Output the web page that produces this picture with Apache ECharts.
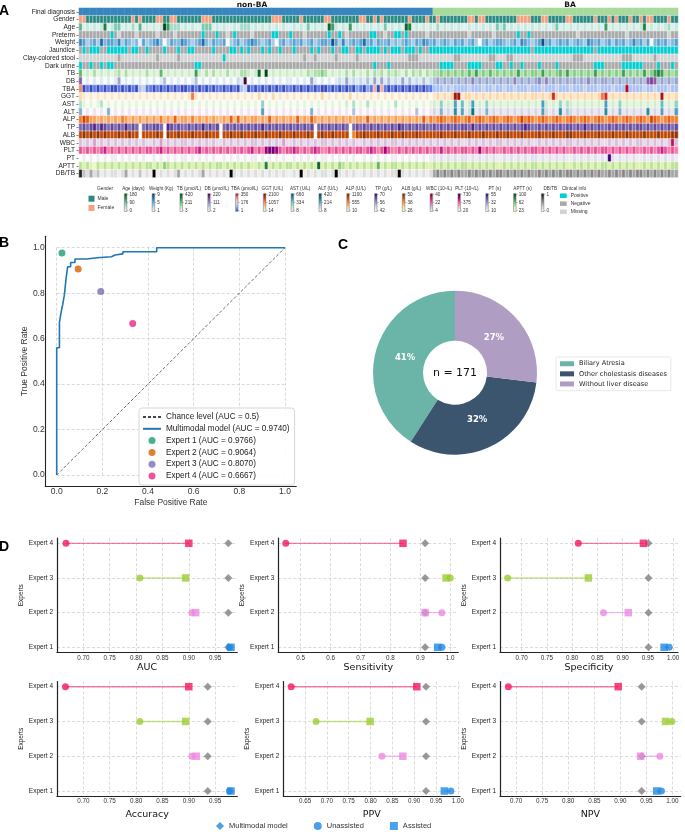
<!DOCTYPE html>
<html><head><meta charset="utf-8">
<script src="https://cdn.jsdelivr.net/npm/echarts@6/dist/echarts.min.js"></script>
<style>html,body{margin:0;padding:0;background:#fff}#c{width:685px;height:832px}</style>
</head><body><div id="c"></div>
<script>
// ---------------- Panel A data ----------------
const heatRows = ['Final diagnosis','Gender','Age','Preterm','Weight','Jaundice','Clay-colored stool','Dark urine','TB','DB','TBA','GGT','AST','ALT','ALP','TP','ALB','WBC','PLT','PT','APTT','DB/TB'];
const nNonBA = 101, nBA = 70;
const groupLabels = ['non-BA', 'BA'];
// Codes read per column (0-9 = colour level, '-' = empty); Gender 0=Male 1=Female; clinical 2=Positive 1=Negative 0=Missing
const codeGender   = "1100000000 0000010100 0011001100 0000011100 0000000000 0000011100 0001000000 1100000000 1100101000 0000100001 0010000000 0110110000 0000011110 0011000001 1000000100 0101000100 1011000010 0";
const codeAge      = "5121212712 4412131512 1212963331 2121144412 1211213331 2121212121 1212141212 1862121612 1212121412 1218712121 2131212121 1212121214 2412121212 1212124121 2121212121 6121212121 2712121231 2";
const codePreterm  = "1111111112 1011110111 1101111011 1111121112 1101211110 1111122111 2111011111 1211210111 1112211011 2212111110 1111111111 1011111101 1111121121 1111111111 1101111111 1111110111 1111111101 1";
const codeWeight   = "6534537455 4635434153 4564035446 5434574354 4503453456 5434530453 4545345345 5485363454 5745354453 4345435465 4534543545 3453045345 5434536543 4584534545 3454365453 4535453464 5350454534 5";
const codeJaundice = "1212221122 2222122112 1111211121 1221111121 1112212121 1121211211 1211112121 1121122112 2122221212 2212221211 2222222222 2222222222 2222222221 2222222222 2222222122 2222222222 2222222222 2";
const codeClay     = "0000000000 0100000000 0010000010 0000000000 0200000000 0000000000 0000100100 0001000001 0000000000 0000111000 0000000110 0000000110 0011000000 0000000000 0111000000 0000011100 0000100000 0";
const codeUrine    = "2112112122 1111111111 1111111111 1112211111 1111111111 1111111111 1111111111 1111111111 1111211121 1111111111 1112222111 1222211112 2112112111 1211112111 1111111222 1111122222 2111121112 1";
const codeTB       = "5121312121 2313121213 1215121212 1216213131 2131213321 2819121212 1212132334 3121213131 2131323132 3213132313 2334343434 3536343534 3434363434 4363434536 3434343634 3434363434 3634676343 4";
const codeDB       = "6010101010 1401010101 0101301010 1013010101 0101021901 0101010101 1010104101 0101214121 2131414131 2141312131 2343434343 4353434343 4343534343 4535343434 3434353434 4343434343 4367634343 4";
const codeTBA      = "7010101010 0101010341 1010101010 0101010101 1010103401 0101010101 1010101010 0101010102 1021606101 0101010101 1333434333 3433343343 3433433343 3343334333 4333433343 3343339333 3433433343 3";
const codeGGT      = "2101010101 0101010101 0101010101 0151010101 0101010101 0201020101 0101010102 0101010201 0101010101 0101010101 0121212881 2212121212 1212121212 2121272121 2121212125 7121212121 2121218121 2";
const codeAST      = "3101013010 1010101010 1010101010 1010101010 1010101010 1040101010 1010101010 1010102030 1030101010 3010101010 1214121615 1261214121 2121212121 2162121413 2121212121 6121412121 2121215121 4";
const codeALT      = "4010101040 1010101010 1010101010 1010101010 1010101010 1050101010 1010104010 1010101030 1010101010 1010103010 1214121615 1271214121 2121212121 2152121613 2121212121 6121412121 2161215121 5";
const codeALP      = "5764434343 4354343434 3435343634 4353434343 3436363434 4343634343 4363436434 3434343434 4363434343 4343434363 5456545654 5645654565 4565457565 4565456545 6545654565 4565456545 6547654565 5";
const codeTP       = "6767868767 6768676-67 6776-87676 6767686767 -676767676 7686767676 7676767-67 6767676-67 6767676767 6876767676 6767676767 7686767676 7676767876 6767676767 7676867676 6767676767 7676767676 7";
const codeALB      = "7878787877 7877877-77 7787-87787 7787778777 -778778777 8778777877 7877787-78 7787777-57 7877787778 7787778777 7778777877 7877787778 7787778777 7877787778 8777877787 7787778777 7877787778 8";
const codeWBC      = "2121312121 2121212121 1213121212 2121212121 1212121212 2121212131 1212121212 2121212121 1212121212 2121212121 2121212121 1212121212 2121212121 1212121212 2121212121 1212121212 2121212127 2";
const codePLT      = "5454545645 4545454545 5456454545 4545645454 5454545456 4547887545 5654545654 4545454545 5456545754 4545454545 4546454545 5454745454 4545454545 5454545454 4545454545 5454545454 4545456545 4";
const codePT       = "0101010101 1010101010 0101010101 1010101010 0101010101 1010101010 0101010101 1010101010 0101010101 1010101010 1212121212 2121212121 1212121212 2121212121 1212121212 1921212121 1212121212 1";
const codeAPTT     = "3232132323 2323232323 3232432323 2323232323 3232323232 2327232323 3232323282 3232432323 2323252323 3232323232 2323232323 3232323232 2323232323 3232323232 2323232323 3232323232 2323232323 3";
const codeDBTB     = "8324231212 2124121312 1912121241 2121241212 1219212121 2121212121 1219121212 2129212121 1212121212 2921212121 2454545454 4545454545 5454545454 4545454545 5454545454 4545454545 5454545454 4";

const cbTitles = ['Age (days)','Weight (Kg)','TB (μmol/L)','DB (μmol/L)','TBA (μmol/L)','GGT (U/L)','AST (U/L)','ALT (U/L)','ALP (U/L)','TP (g/L)','ALB (g/L)','WBC (10⁹/L)','PLT (10⁹/L)','PT (s)','APTT (s)','DB/TB'];
const cbTicks = [['180','90','0'],['9','5','1'],['420','211','3'],['220','111','2'],['350','176','1'],['2100','1057','14'],['660','334','8'],['420','214','8'],['1100','555','10'],['70','56','42'],['50','38','26'],['40','22','4'],['730','375','20'],['55','32','10'],['100','62','23'],['1','','0']];

// ---------------- Panel B data ----------------
const rocFPR = [0,0,0.012,0.012,0.019,0.019,0.026,0.026,0.034,0.034,0.041,0.041,0.048,0.048,0.061,0.061,0.08,0.08,0.13,0.13,0.19,0.19,0.24,0.24,0.255,0.255,0.29,0.29,0.438,0.438,1];
const rocTPR = [0,0.56,0.56,0.67,0.67,0.714,0.714,0.748,0.748,0.795,0.795,0.865,0.865,0.916,0.916,0.935,0.935,0.95,0.95,0.957,0.957,0.96,0.96,0.968,0.968,0.973,0.973,0.982,0.982,1,1];
const expertFPR = [0.023, 0.094, 0.193, 0.333];
const expertTPR = [0.977, 0.906, 0.807, 0.667];
const expertAUCText = ['0.9766','0.9064','0.8070','0.6667'];
const modelAUCText = '0.9740';

// ---------------- Panel C data ----------------
const pieNames = ['Biliary Atresia','Other cholestasis diseases','Without liver disease'];
const pieCounts = [70, 55, 46];
const pieTotal = 171;

// ---------------- Panel D data ----------------
const expertNames = ['Expert 1','Expert 2','Expert 3','Expert 4'];
const unassistedAUC  = [0.977, 0.906, 0.807, 0.667];
const assistedAUC    = [0.980, 0.913, 0.894, 0.900];
const modelAUC = 0.975;
const unassistedSens = [0.972, 0.972, 1.000, 0.450];
const assistedSens   = [0.958, 0.916, 0.986, 0.842];
const modelSens = 0.916;
const unassistedSpec = [0.992, 0.862, 0.672, 0.812];
const assistedSpec   = [0.982, 0.911, 0.832, 0.941];
const modelSpec = 0.951;
const unassistedAcc  = [0.977, 0.906, 0.807, 0.666];
const assistedAcc    = [0.980, 0.914, 0.894, 0.900];
const modelAcc = 0.936;
const unassistedPPV  = [0.984, 0.826, 0.675, 0.618];
const assistedPPV    = [0.969, 0.874, 0.799, 0.906];
const modelPPV = 0.927;
const unassistedNPV  = [0.979, 0.976, 0.999, 0.685];
const assistedNPV    = [0.970, 0.939, 0.987, 0.896];
const modelNPV = 0.941;

// ---------------- styles ----------------
const FONT = 'DejaVu Sans', AFONT = 'Liberation Sans';
const diagColors = ['#3786bf', '#a7db9c'];
const genderColors = ['#2b8a82', '#f5a07e'];
const clinColors = ['#d3d3d3', '#a9a9a9', '#00ced1'];
const cmaps = [
  ['#f2faf7','#c1e6db','#66c2a4','#238b45','#00441b'],
  ['#f7fbff','#c6dbef','#6baed6','#2171b5','#08306b'],
  ['#f7fcf5','#c7e9c0','#74c476','#238b45','#00441b'],
  ['#f7fcfd','#bfd3e6','#8c96c6','#88419d','#4d004b'],
  ['#3b4cc0','#7b9ff9','#c0d4f5','#f2cbb7','#ee8468','#b40426'],
  ['#fff7ec','#fdd49e','#fc8d59','#d7301f','#7f0000'],
  ['#f7fcf0','#ccebc5','#7bccc4','#2b8cbe','#084081'],
  ['#fff7fb','#d0d1e6','#67a9cf','#02818a','#014636'],
  ['#fff5eb','#fdd0a2','#fd8d3c','#d94801','#7f2704'],
  ['#fcfbfd','#dadaeb','#9e9ac8','#6a51a3','#3f007d'],
  ['#ffffe5','#fee391','#fe9929','#cc4c02','#662506'],
  ['#f7f4f9','#d4b9da','#df65b0','#ce1256','#67001f'],
  ['#fff7f3','#fcc5c0','#f768a1','#ae017e','#49006a'],
  ['#fcfbfd','#dadaeb','#9e9ac8','#6a51a3','#3f007d'],
  ['#ffffe5','#d9f0a3','#78c679','#238443','#004529'],
  ['#ffffff','#d9d9d9','#969696','#525252','#000000']
];
const expertColors = ['#1e88e5', '#ee88e0', '#9acd32', '#f5175b'];
const rocExpertColors = ['#1b9e77', '#d95f02', '#7570b3', '#e7298a'];
const pieColors = ['#6bb5a8', '#3b556e', '#b09dc4'];

const chart = echarts.init(document.getElementById('c'));
const grid = [], xAxis = [], yAxis = [], series = [], visualMap = [], graphic = [], legend = [];
const addGrid = g => (grid.push(g), grid.length - 1);
const addX = a => (xAxis.push(a), xAxis.length - 1);
const addY = a => (yAxis.push(a), yAxis.length - 1);
const txt = (x, y, text, o) => graphic.push({type:'text', silent:true, x, y, style:Object.assign({text, fill:'#222', fontFamily:FONT, fontSize:7, align:'left', verticalAlign:'middle'}, o || {})});

// ================= Panel A =================
const nCols = nNonBA + nBA;
let codeFinal = '';
for (let i = 0; i < nCols; i++) codeFinal += i < nNonBA ? '0' : '1';
const rowCodes = [codeFinal, codeGender, codeAge, codePreterm, codeWeight, codeJaundice, codeClay, codeUrine, codeTB, codeDB, codeTBA, codeGGT, codeAST, codeALT, codeALP, codeTP, codeALB, codeWBC, codePLT, codePT, codeAPTT, codeDBTB];
const hL = 79, hT = 8, hW = 599, hRow = 7.7;
const gH = addGrid({left:hL, top:hT, width:hW, height:hRow * heatRows.length});
const cols = []; for (let i = 0; i < nCols; i++) cols.push(String(i));
const xH = addX({type:'category', gridIndex:gH, data:cols, show:false});
const yH = addY({type:'category', gridIndex:gH, data:heatRows, inverse:true, axisLine:{show:false},
  axisTick:{show:true, length:2.5, alignWithLabel:true, interval:0, lineStyle:{color:'#333', width:0.6}},
  axisLabel:{fontFamily:AFONT, fontSize:6.5, color:'#222', margin:4, interval:0}, splitLine:{show:false}});
let badLen = [];
rowCodes.forEach((code, r) => {
  const s = code.replace(/\s/g, '');
  if (s.length !== nCols) badLen.push(heatRows[r] + ':' + s.length);
  const data = [];
  for (let i = 0; i < s.length; i++) { if (s[i] !== '-') data.push([i, r, +s[i]]); }
  series.push({type:'heatmap', xAxisIndex:xH, yAxisIndex:yH, data, silent:true, progressive:0,
    itemStyle:r === 0 ? {borderWidth:0} : {borderColor:'#ffffff', borderWidth:0.45}, emphasis:{disabled:true}});
});
visualMap.push({type:'piecewise', show:false, seriesIndex:0, dimension:2,
  pieces:[{value:0, color:diagColors[0]}, {value:1, color:diagColors[1]}]});
visualMap.push({type:'piecewise', show:true, seriesIndex:1, dimension:2, inverse:true, align:'left',
  pieces:[{value:0, label:'Male', color:genderColors[0]}, {value:1, label:'Female', color:genderColors[1]}],
  left:88.5, top:195.7, itemWidth:6, itemHeight:6, itemGap:3.3, itemSymbol:'rect', textGap:3, padding:0,
  textStyle:{fontSize:5, fontFamily:AFONT, color:'#333'}});
visualMap.push({type:'piecewise', show:true, seriesIndex:[3,5,6,7], dimension:2, align:'left',
  pieces:[{value:2, label:'Positive', color:clinColors[2]}, {value:1, label:'Negative', color:clinColors[1]}, {value:0, label:'Missing', color:clinColors[0]}],
  left:560, top:193.2, itemWidth:6.7, itemHeight:4.5, itemGap:3, itemSymbol:'rect', textGap:4, padding:0,
  textStyle:{fontSize:5, fontFamily:AFONT, color:'#333'}});
const numericRows = [2,4,8,9,10,11,12,13,14,15,16,17,18,19,20,21];
const cbX0 = 124.3, cbDX = 27.8, cbTop = 193.5, cbH = 18, cbW = 2.6;
numericRows.forEach((r, i) => {
  const x = cbX0 + i * cbDX;
  visualMap.push({type:'continuous', show:true, seriesIndex:r, dimension:2, min:0, max:9,
    inRange:{color:cmaps[i]}, left:x, top:cbTop, itemWidth:cbW, itemHeight:cbH, calculable:false,
    padding:0, hoverLink:false, realtime:false});
  graphic.push({type:'rect', silent:true, z:100, shape:{x:x, y:cbTop, width:cbW, height:cbH}, style:{fill:null, stroke:'#555', lineWidth:0.4}});
  txt(x + 9, 188.4, cbTitles[i], {fontFamily:AFONT, fontSize:4.6, align:'center', fill:'#333'});
  const ys = [cbTop + 0.8, cbTop + cbH / 2, cbTop + cbH - 0.8];
  cbTicks[i].forEach((t, j) => {
    if (!t) return;
    graphic.push({type:'line', silent:true, shape:{x1:x + cbW, y1:ys[j], x2:x + cbW + 1.6, y2:ys[j]}, style:{stroke:'#555', lineWidth:0.4}});
    txt(x + cbW + 2.6, ys[j], t, {fontFamily:AFONT, fontSize:4.6, fill:'#333'});
  });
});
txt(105, 188.6, 'Gender', {fontFamily:AFONT, fontSize:4.8, align:'center', fill:'#333'});
txt(574, 188.4, 'Clinical info', {fontFamily:AFONT, fontSize:4.8, align:'center', fill:'#333'});
txt(252, 4.6, groupLabels[0], {fontFamily:FONT, fontSize:7.5, fontWeight:'bold', align:'center', fill:'#111'});
txt(570, 4.6, groupLabels[1], {fontFamily:FONT, fontSize:7.5, fontWeight:'bold', align:'center', fill:'#111'});

// ================= Panel B =================
const gRS = addGrid({left:45.3, top:236.3, width:251, height:250});
const spineAxis = (gi, min, max) => ({type:'value', gridIndex:gi, min, max,
  axisLine:{show:true, onZero:false, lineStyle:{color:'#222', width:1.1}}, axisTick:{show:false}, axisLabel:{show:false}, splitLine:{show:false}});
addX(spineAxis(gRS, -0.05, 1.05));
addY(spineAxis(gRS, -0.05, 1.05));
const gR = addGrid({left:56.7, top:247.7, width:228.3, height:227.3});
const rocAxis = (name, gap) => ({type:'value', gridIndex:gR, min:0, max:1, interval:0.2,
  axisLine:{show:false}, axisTick:{show:false},
  axisLabel:{fontFamily:AFONT, fontSize:8.5, color:'#333', margin:12, formatter:v => v.toFixed(1)},
  splitLine:{show:true, lineStyle:{type:[3,2], color:'#cfcfcf', width:0.8}},
  name, nameLocation:'middle', nameGap:gap, nameTextStyle:{fontFamily:AFONT, fontSize:8.5, color:'#333'}});
const xR = addX(rocAxis('False Positive Rate', 23));
const yR = addY(rocAxis('True Positive Rate', 26));
const rocLegendNames = ['Chance level (AUC = 0.5)', 'Multimodal model (AUC = ' + modelAUCText + ')'];
series.push({type:'line', name:rocLegendNames[0], xAxisIndex:xR, yAxisIndex:yR, data:[[0,0],[1,1]], symbol:'none',
  lineStyle:{color:'#444', width:0.8, type:[3,2]}, itemStyle:{color:'#444'}, silent:true, z:2});
series.push({type:'line', name:rocLegendNames[1], xAxisIndex:xR, yAxisIndex:yR, data:rocFPR.map((f, i) => [f, rocTPR[i]]),
  symbol:'none', lineStyle:{color:'#1f77b4', width:1.6}, itemStyle:{color:'#1f77b4'}, silent:true, z:3});
const rocLegendData = rocLegendNames.map(n => ({name:n, itemStyle:{opacity:0, color:'rgba(0,0,0,0)', borderWidth:0}}));
expertFPR.forEach((f, i) => {
  const nm = expertNames[i] + ' (AUC = ' + expertAUCText[i] + ')';
  rocLegendData.push({name:nm});
  series.push({type:'scatter', name:nm, xAxisIndex:xR, yAxisIndex:yR, data:[[f, expertTPR[i]]], symbol:'circle', symbolSize:7,
    itemStyle:{color:rocExpertColors[i]}, silent:true, z:4});
});
legend.push({data:rocLegendData, orient:'vertical', left:139, top:408, padding:[4,5,4,3], itemGap:1.8, itemWidth:18, itemHeight:7,
  borderColor:'#cccccc', borderWidth:0.8, borderRadius:3, backgroundColor:'rgba(255,255,255,0.85)',
  textStyle:{fontFamily:AFONT, fontSize:8.2, color:'#222', lineHeight:10}, selectedMode:false});

// ================= Panel C =================
const pieCenter = [455, 372.7];
series.push({type:'pie', name:'diagnosis', center:pieCenter, radius:[32, 82], startAngle:90, clockwise:false, silent:true,
  data:pieNames.map((n, i) => ({name:n, value:pieCounts[i], itemStyle:{color:pieColors[i]}})),
  label:{show:false}, labelLine:{show:false}, emphasis:{disabled:true}});
series.push({type:'pie', name:'diagnosisLabels', center:pieCenter, radius:[0, 98], startAngle:90, clockwise:false, silent:true,
  data:pieNames.map((n, i) => ({name:n, value:pieCounts[i]})), itemStyle:{color:'rgba(0,0,0,0)'},
  label:{show:true, position:'inside', formatter:p => Math.round(p.percent) + '%', color:'#fff', fontWeight:'bold', fontSize:8.5, fontFamily:FONT},
  labelLine:{show:false}, emphasis:{disabled:true}});
txt(pieCenter[0], pieCenter[1], 'n = ' + pieTotal, {fontFamily:FONT, fontSize:11, align:'center', fill:'#111'});
legend.push({data:pieNames, orient:'vertical', left:556, top:357, padding:[3,4,3,4], itemGap:2.6, itemWidth:14, itemHeight:5, icon:'rect',
  borderColor:'#dddddd', borderWidth:0.7, borderRadius:2, textStyle:{fontFamily:FONT, fontSize:6.6, color:'#222', lineHeight:7.5}, selectedMode:false});

// ================= Panel D =================
const dRows = [{y3:543.3, y0:647.3, gap:10}, {y3:686.7, y0:791, gap:13}];
const dPanels = [
  {metric:'AUC', un:unassistedAUC, as:assistedAUC, model:modelAUC, row:0, left:57, width:180.3, min:0.65, max:0.992, t0:0.70, t1:0.95, step:0.05, dec:2},
  {metric:'Sensitivity', un:unassistedSens, as:assistedSens, model:modelSens, row:0, left:278.3, width:180, min:0.425, max:1.027, t0:0.5, t1:1.0, step:0.1, dec:1},
  {metric:'Specificity', un:unassistedSpec, as:assistedSpec, model:modelSpec, row:0, left:500, width:178, min:0.657, max:1.0095, t0:0.70, t1:1.00, step:0.05, dec:2},
  {metric:'Accuracy', un:unassistedAcc, as:assistedAcc, model:modelAcc, row:1, left:57, width:180.3, min:0.65, max:0.992, t0:0.70, t1:0.95, step:0.05, dec:2},
  {metric:'PPV', un:unassistedPPV, as:assistedPPV, model:modelPPV, row:1, left:283.3, width:176.7, min:0.600, max:1.005, t0:0.65, t1:1.00, step:0.05, dec:2},
  {metric:'NPV', un:unassistedNPV, as:assistedNPV, model:modelNPV, row:1, left:500, width:180.7, min:0.669, max:1.016, t0:0.70, t1:1.00, step:0.05, dec:2}
];
const dash = {type:[3,2], color:'#d2d2d2', width:0.8};
dPanels.forEach((p, k) => {
  const rg = dRows[p.row];
  const pitch = (rg.y0 - rg.y3) / 3;
  const top = rg.y3 - 0.15 * pitch, bottom = rg.y0 + 0.15 * pitch;
  const gS = addGrid({left:p.left, top, width:p.width, height:bottom - top});
  addX(Object.assign(spineAxis(gS, p.min, p.max), {axisLine:{show:true, onZero:false, lineStyle:{color:'#222', width:1.2}},
    name:p.metric, nameLocation:'middle', nameGap:rg.gap, nameTextStyle:{fontFamily:FONT, fontSize:9.5, color:'#111'}}));
  addY(Object.assign(spineAxis(gS, -0.15, 3.15), {axisLine:{show:true, onZero:false, lineStyle:{color:'#222', width:1.2}}}));
  const span = p.max - p.min;
  const tl = p.left + (p.t0 - p.min) / span * p.width;
  const tw = (p.t1 - p.t0) / span * p.width;
  const gT = addGrid({left:tl, top, width:tw, height:bottom - top});
  addX({type:'value', gridIndex:gT, min:p.t0, max:p.t1, interval:p.step, axisLine:{show:false}, axisTick:{show:false},
    axisLabel:{fontFamily:AFONT, fontSize:6.3, color:'#333', margin:2.5, formatter:v => v.toFixed(p.dec)}, splitLine:{show:true, lineStyle:dash}});
  addY({type:'value', gridIndex:gT, min:0, max:1, show:false});
  const gC = addGrid({left:p.left, top:rg.y3, width:p.width, height:rg.y0 - rg.y3});
  const xC = addX({type:'value', gridIndex:gC, min:p.min, max:p.max, show:false});
  const yC = addY({type:'category', gridIndex:gC, data:expertNames, boundaryGap:false, axisLine:{show:false}, axisTick:{show:false},
    axisLabel:{fontFamily:AFONT, fontSize:6.5, color:'#222', margin:4}, splitLine:{show:true, lineStyle:dash},
    name:'Experts', nameLocation:'middle', nameGap:28, nameTextStyle:{fontFamily:AFONT, fontSize:6.5, color:'#222'}});
  expertNames.forEach((n, e) => {
    series.push({type:'line', xAxisIndex:xC, yAxisIndex:yC, data:[[p.un[e], n], [p.as[e], n]], symbol:'none', silent:true, z:2,
      lineStyle:{color:expertColors[e], width:1.4, opacity:0.55}});
  });
  series.push({type:'scatter', name:'Multimodal model', xAxisIndex:xC, yAxisIndex:yC, symbol:'diamond', symbolSize:8, silent:true, z:3,
    itemStyle:{color:'#808080'}, data:expertNames.map(n => [p.model, n])});
  series.push({type:'scatter', name:'Unassisted', xAxisIndex:xC, yAxisIndex:yC, symbol:'circle', symbolSize:7, silent:true, z:4,
    itemStyle:{color:expertColors[0]}, data:expertNames.map((n, e) => ({value:[p.un[e], n], itemStyle:{color:expertColors[e]}}))});
  series.push({type:'scatter', name:'Assisted', xAxisIndex:xC, yAxisIndex:yC, symbol:'rect', symbolSize:7.5, silent:true, z:5,
    itemStyle:{color:expertColors[0]}, data:expertNames.map((n, e) => ({value:[p.as[e], n], itemStyle:{color:expertColors[e]}}))});
});
legend.push({data:[{name:'Multimodal model', icon:'diamond', itemStyle:{color:expertColors[0]}}, {name:'Unassisted', icon:'circle'}, {name:'Assisted', icon:'rect'}],
  orient:'horizontal', left:216, top:822, itemGap:26, itemWidth:8, itemHeight:8, padding:0,
  textStyle:{fontFamily:AFONT, fontSize:7.5, color:'#333'}, selectedMode:false});

// panel letters
[['A', 4, 11], ['B', 4, 243], ['C', 343, 245], ['D', 4, 547]].forEach(l => txt(l[1], l[2], l[0], {fontFamily:AFONT, fontSize:14, fontWeight:'bold', align:'center', fill:'#000'}));
if (badLen.length) txt(300, 820, 'LEN ' + badLen.join(' '), {fill:'red', fontSize:9});

chart.setOption({animation:false, backgroundColor:'#ffffff', grid, xAxis, yAxis, series, visualMap, legend, graphic});
</script></body></html>
